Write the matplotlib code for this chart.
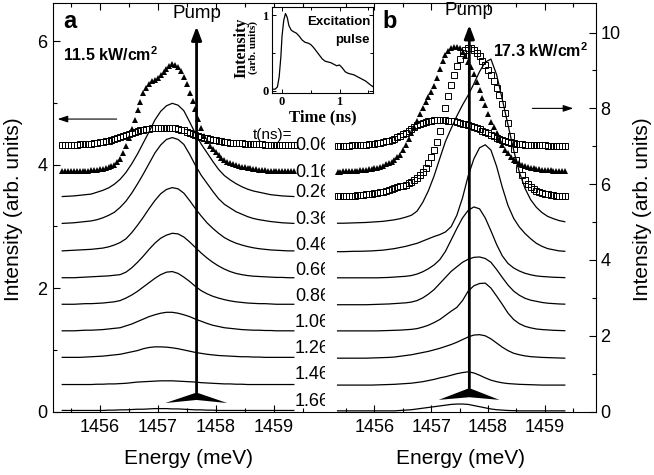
import numpy as np
import matplotlib
matplotlib.use('Agg')
import matplotlib.pyplot as plt
from matplotlib.ticker import MultipleLocator, FixedLocator

plt.rcParams['font.family'] = 'Liberation Sans'
plt.rcParams['mathtext.fontset'] = 'custom'
plt.rcParams['mathtext.rm'] = 'Liberation Sans'
plt.rcParams['mathtext.bf'] = 'Liberation Sans:bold'

# energy grids of the read values (meV): lines every 0.1, symbols every 0.05
energy = np.round(np.arange(1455.35, 1459.36, 0.1), 2)
energy_fine = np.round(np.arange(1455.35, 1459.36, 0.05), 2)
times = ['0.06', '0.16', '0.26', '0.36', '0.46', '0.66', '0.86', '1.06', '1.26', '1.46', '1.66']

# panel a, 11.5 kW/cm2 : heights above each baseline
left_offsets = [4.32, 3.90, 3.475, 3.04, 2.60, 2.17, 1.74, 1.31, 0.88, 0.44, 0.02]
left_sq_006 = [
    0, 0, 0, 0, 0, 0.005, 0.01, 0.012, 0.015, 0.018,
    0.02, 0.028, 0.035, 0.042, 0.05, 0.058, 0.065, 0.08, 0.095, 0.112,
    0.13, 0.145, 0.16, 0.18, 0.2, 0.215, 0.23, 0.24, 0.25, 0.258,
    0.265, 0.268, 0.27, 0.275, 0.28, 0.28, 0.28, 0.28, 0.28, 0.27,
    0.26, 0.248, 0.235, 0.218, 0.2, 0.182, 0.165, 0.148, 0.13, 0.12,
    0.11, 0.098, 0.085, 0.075, 0.065, 0.058, 0.05, 0.045, 0.04, 0.035,
    0.03, 0.028, 0.025, 0.022, 0.02, 0.018, 0.015, 0.012, 0.01, 0.008,
    0.005, 0.002, 0, 0, 0, 0, 0, 0, 0, 0, 0]
left_tri_016 = [
    0, 0, 0, 0, 0, 0, 0, 0, 0, 0.005,
    0.01, 0.015, 0.02, 0.025, 0.03, 0.045, 0.06, 0.08, 0.10, 0.14,
    0.20, 0.29, 0.40, 0.53, 0.68, 0.83, 0.98, 1.12, 1.26, 1.35,
    1.41, 1.45, 1.47, 1.51, 1.55, 1.60, 1.65, 1.70, 1.73, 1.72,
    1.69, 1.62, 1.52, 1.40, 1.27, 1.14, 1.01, 0.84, 0.69, 0.57,
    0.48, 0.41, 0.35, 0.30, 0.25, 0.21, 0.18, 0.15, 0.13, 0.11,
    0.09, 0.08, 0.07, 0.06, 0.05, 0.04, 0.03, 0.025, 0.02, 0.015,
    0.01, 0.005, 0, 0, 0, 0, 0, 0, 0, 0, 0]
left_lines = [
    [0.01, 0.015, 0.02, 0.03, 0.04, 0.05, 0.08, 0.11, 0.15, 0.21, 0.29, 0.40, 0.54, 0.70, 0.88, 1.06, 1.25, 1.39, 1.48, 1.52, 1.49,
     1.40, 1.22, 1.03, 0.86, 0.72, 0.58, 0.45, 0.35, 0.28, 0.22, 0.17, 0.13, 0.10, 0.08, 0.06, 0.04, 0.03, 0.02, 0.015, 0.01],
    [0.01, 0.015, 0.02, 0.03, 0.04, 0.05, 0.07, 0.10, 0.14, 0.19, 0.27, 0.37, 0.50, 0.65, 0.81, 0.98, 1.15, 1.28, 1.37, 1.40, 1.37,
     1.29, 1.13, 0.95, 0.79, 0.66, 0.53, 0.41, 0.32, 0.26, 0.20, 0.16, 0.12, 0.09, 0.07, 0.055, 0.04, 0.03, 0.02, 0.015, 0.01],
    [0.005, 0.01, 0.015, 0.02, 0.025, 0.03, 0.04, 0.05, 0.07, 0.10, 0.14, 0.20, 0.30, 0.42, 0.55, 0.69, 0.82, 0.93, 1.00, 1.03, 1.01,
     0.94, 0.82, 0.69, 0.57, 0.46, 0.37, 0.29, 0.22, 0.17, 0.13, 0.10, 0.075, 0.055, 0.04, 0.03, 0.02, 0.015, 0.01, 0.005, 0.005],
    [0, 0, 0, 0.005, 0.01, 0.015, 0.02, 0.025, 0.03, 0.04, 0.05, 0.09, 0.16, 0.25, 0.35, 0.46, 0.56, 0.64, 0.69, 0.72, 0.71,
     0.66, 0.58, 0.49, 0.40, 0.32, 0.25, 0.19, 0.14, 0.10, 0.07, 0.05, 0.035, 0.025, 0.02, 0.015, 0.01, 0.005, 0.005, 0, 0],
    [0, 0, 0, 0.005, 0.01, 0.01, 0.015, 0.02, 0.03, 0.04, 0.06, 0.10, 0.15, 0.21, 0.28, 0.35, 0.42, 0.48, 0.52, 0.53, 0.50,
     0.44, 0.37, 0.29, 0.22, 0.17, 0.13, 0.10, 0.075, 0.055, 0.04, 0.03, 0.02, 0.015, 0.01, 0.01, 0.005, 0, 0, 0, 0],
    [0, 0, 0, 0.005, 0.01, 0.01, 0.015, 0.02, 0.03, 0.04, 0.05, 0.08, 0.11, 0.15, 0.19, 0.23, 0.26, 0.285, 0.30, 0.30, 0.285,
     0.26, 0.23, 0.19, 0.155, 0.12, 0.09, 0.07, 0.05, 0.04, 0.03, 0.02, 0.015, 0.01, 0.01, 0.005, 0.005, 0, 0, 0, 0],
    [0, 0, 0, 0, 0.005, 0.01, 0.015, 0.02, 0.03, 0.04, 0.05, 0.07, 0.09, 0.11, 0.14, 0.16, 0.17, 0.17, 0.165, 0.155, 0.14,
     0.12, 0.10, 0.08, 0.065, 0.05, 0.04, 0.03, 0.025, 0.02, 0.015, 0.01, 0.01, 0.005, 0.005, 0, 0, 0, 0, 0, 0],
    [0, 0, 0, 0, 0, 0, 0.005, 0.005, 0.01, 0.01, 0.015, 0.02, 0.03, 0.04, 0.045, 0.05, 0.055, 0.06, 0.06, 0.06, 0.055,
     0.05, 0.045, 0.04, 0.03, 0.025, 0.02, 0.015, 0.01, 0.01, 0.005, 0.005, 0, 0, 0, 0, 0, 0, 0, 0, 0],
    [0, 0, 0, 0, 0, 0, 0, 0, 0.005, 0.005, 0.01, 0.01, 0.015, 0.02, 0.02, 0.025, 0.03, 0.03, 0.03, 0.025, 0.025,
     0.02, 0.015, 0.01, 0.01, 0.005, 0.005, 0, 0, 0, 0, 0, 0, 0, 0, 0, 0, 0, 0, 0, 0],
]

# panel b, 17.3 kW/cm2
right_offsets = [7.01, 6.33, 5.67, 4.97, 4.22, 3.53, 2.82, 2.13, 1.41, 0.70, 0.02]
right_sq_006 = [
    0.0, 0.002, 0.005, 0.008, 0.01, 0.012, 0.015, 0.02, 0.025, 0.03,
    0.035, 0.042, 0.05, 0.06, 0.07, 0.085, 0.10, 0.12, 0.14, 0.165,
    0.19, 0.225, 0.26, 0.305, 0.35, 0.40, 0.45, 0.50, 0.54, 0.58,
    0.61, 0.64, 0.66, 0.67, 0.68, 0.685, 0.69, 0.685, 0.68, 0.67,
    0.66, 0.645, 0.63, 0.61, 0.59, 0.57, 0.55, 0.525, 0.50, 0.47,
    0.44, 0.405, 0.37, 0.33, 0.29, 0.255, 0.22, 0.185, 0.15, 0.125,
    0.10, 0.085, 0.07, 0.06, 0.05, 0.042, 0.035, 0.03, 0.025, 0.022,
    0.02, 0.018, 0.015, 0.012, 0.01, 0.008, 0.005, 0.002, 0.0, 0.0, 0.0]
right_tri_016 = [
    0.0, 0.002, 0.005, 0.008, 0.01, 0.015, 0.02, 0.028, 0.035, 0.042,
    0.05, 0.065, 0.08, 0.095, 0.11, 0.135, 0.16, 0.19, 0.22, 0.265,
    0.32, 0.38, 0.45, 0.57, 0.70, 0.86, 1.02, 1.18, 1.35, 1.52,
    1.68, 1.84, 1.98, 2.10, 2.25, 2.48, 2.70, 2.91, 3.08, 3.19,
    3.26, 3.29, 3.30, 3.25, 3.15, 3.04, 2.90, 2.75, 2.58, 2.37,
    2.15, 1.95, 1.75, 1.53, 1.32, 1.17, 1.02, 0.85, 0.70, 0.58,
    0.48, 0.39, 0.32, 0.27, 0.22, 0.18, 0.15, 0.12, 0.10, 0.085,
    0.07, 0.06, 0.05, 0.045, 0.04, 0.035, 0.03, 0.025, 0.02, 0.015, 0.01]
right_sq_026 = [
    0.01, 0.012, 0.015, 0.018, 0.02, 0.025, 0.03, 0.035, 0.04, 0.05,
    0.06, 0.07, 0.08, 0.09, 0.10, 0.115, 0.13, 0.15, 0.17, 0.195,
    0.22, 0.245, 0.27, 0.295, 0.32, 0.36, 0.40, 0.45, 0.50, 0.57,
    0.66, 0.76, 0.88, 1.04, 1.22, 1.45, 1.72, 2.03, 2.35, 2.65,
    2.95, 3.22, 3.45, 3.64, 3.78, 3.87, 3.92, 3.91, 3.88, 3.80,
    3.70, 3.59, 3.48, 3.35, 3.20, 3.05, 2.88, 2.68, 2.45, 2.21,
    1.95, 1.60, 1.25, 0.96, 0.72, 0.57, 0.44, 0.34, 0.25, 0.20,
    0.15, 0.12, 0.09, 0.075, 0.06, 0.05, 0.04, 0.03, 0.02, 0.015, 0.01]
right_lines = [
    [0.0, 0.0, 0.005, 0.01, 0.015, 0.02, 0.03, 0.04, 0.05, 0.07, 0.09, 0.12, 0.16, 0.21, 0.32, 0.55, 0.86, 1.25, 1.71, 2.16, 2.50,
     2.83, 3.12, 3.38, 3.68, 4.00, 4.25, 4.33, 3.92, 3.27, 2.60, 1.93, 1.35, 0.92, 0.62, 0.42, 0.28, 0.18, 0.12, 0.07, 0.04],
    [0, 0, 0.005, 0.01, 0.01, 0.015, 0.02, 0.03, 0.04, 0.06, 0.08, 0.11, 0.14, 0.18, 0.22, 0.28, 0.34, 0.40, 0.45, 0.52, 0.66,
     0.96, 1.42, 2.00, 2.45, 2.74, 2.82, 2.68, 2.25, 1.70, 1.22, 0.88, 0.65, 0.48, 0.34, 0.22, 0.14, 0.08, 0.05, 0.02, 0.01],
    [0, 0, 0, 0, 0, 0, 0, 0, 0.005, 0.01, 0.02, 0.03, 0.04, 0.06, 0.10, 0.16, 0.24, 0.34, 0.48, 0.70, 1.00,
     1.30, 1.58, 1.78, 1.87, 1.82, 1.58, 1.24, 0.88, 0.58, 0.38, 0.26, 0.18, 0.12, 0.08, 0.05, 0.035, 0.025, 0.015, 0.01, 0.005],
    [0, 0, 0, 0, 0, 0, 0.005, 0.01, 0.015, 0.02, 0.03, 0.04, 0.05, 0.07, 0.11, 0.18, 0.28, 0.40, 0.56, 0.72, 0.88,
     1.00, 1.12, 1.20, 1.25, 1.26, 1.22, 1.12, 0.93, 0.72, 0.52, 0.36, 0.25, 0.17, 0.12, 0.09, 0.06, 0.04, 0.03, 0.02, 0.015],
    [0, 0, 0, 0, 0, 0, 0, 0, 0.005, 0.01, 0.015, 0.02, 0.03, 0.04, 0.06, 0.10, 0.15, 0.22, 0.30, 0.41, 0.52,
     0.62, 0.80, 1.05, 1.19, 1.25, 1.26, 1.13, 0.92, 0.70, 0.47, 0.30, 0.19, 0.12, 0.08, 0.05, 0.035, 0.025, 0.015, 0.01, 0.005],
    [0, 0, 0, 0, 0, 0, 0.005, 0.01, 0.015, 0.02, 0.03, 0.05, 0.07, 0.09, 0.12, 0.15, 0.18, 0.22, 0.26, 0.31, 0.36,
     0.42, 0.49, 0.56, 0.61, 0.62, 0.59, 0.51, 0.40, 0.29, 0.20, 0.13, 0.09, 0.06, 0.04, 0.03, 0.02, 0.015, 0.01, 0.005, 0.0],
    [0, 0, 0, 0, 0, 0, 0, 0.005, 0.01, 0.015, 0.02, 0.03, 0.04, 0.05, 0.07, 0.09, 0.12, 0.15, 0.19, 0.22, 0.26,
     0.30, 0.33, 0.35, 0.32, 0.26, 0.19, 0.13, 0.09, 0.06, 0.04, 0.03, 0.02, 0.015, 0.01, 0.005, 0, 0, 0, 0, 0],
    [0, 0, 0, 0, 0, 0, 0, 0, 0, 0, 0, 0.01, 0.02, 0.03, 0.05, 0.07, 0.09, 0.11, 0.13, 0.15, 0.17,
     0.18, 0.18, 0.17, 0.14, 0.11, 0.08, 0.05, 0.03, 0.02, 0.01, 0.005, 0, 0, 0, 0, 0, 0, 0, 0, 0],
]

# excitation pulse (inset)
pulse_t = [-0.18, -0.12, -0.08, -0.05, -0.02, 0.0, 0.03, 0.06, 0.09, 0.12, 0.16, 0.2, 0.25, 0.3, 0.35, 0.4, 0.45,
           0.5, 0.55, 0.6, 0.65, 0.7, 0.75, 0.8, 0.85, 0.9, 0.95, 1.0, 1.05, 1.1, 1.15, 1.2, 1.25, 1.3, 1.35,
           1.4, 1.45, 1.5, 1.55, 1.59]
pulse_i = [0.02, 0.02, 0.05, 0.18, 0.45, 0.72, 0.93, 1.02, 0.97, 0.86, 0.80, 0.78, 0.76, 0.72, 0.67, 0.64, 0.63,
           0.61, 0.57, 0.52, 0.47, 0.42, 0.39, 0.38, 0.37, 0.35, 0.33, 0.34, 0.30, 0.25, 0.23, 0.22, 0.21, 0.19, 0.17,
           0.15, 0.13, 0.10, 0.07, 0.05]

pump_e = 1457.67
label_y = [4.31, 3.88, 3.55, 3.12, 2.70, 2.28, 1.86, 1.45, 1.03, 0.61, 0.17]

W, H = 654, 475
def box(x0, y0, x1, y1):
    return [x0 / W, 1 - y1 / H, (x1 - x0) / W, (y1 - y0) / H]

fig = plt.figure(figsize=(6.54, 4.75), dpi=100)
axL = fig.add_axes(box(53, 3, 324.5, 412))
axR = fig.add_axes(box(324.5, 3, 596, 412))


def squares(ax, vals, off):
    ax.plot(energy_fine, np.array(vals) + off, ls='none', marker='s', ms=4.2, mfc='none', mec='k', mew=0.7)


def triangles(ax, vals, off):
    ax.plot(energy_fine, np.array(vals) + off, ls='none', marker='^', ms=4.6, color='k', mew=0)


def lines(ax, spectra, offsets):
    for vals, off in zip(spectra, offsets):
        ax.plot(energy, np.array(vals) + off, color='k', lw=0.9)


squares(axL, left_sq_006, left_offsets[0])
triangles(axL, left_tri_016, left_offsets[1])
lines(axL, left_lines, left_offsets[2:])

squares(axR, right_sq_006, right_offsets[0])
triangles(axR, right_tri_016, right_offsets[1])
squares(axR, right_sq_026, right_offsets[2])
lines(axR, right_lines, right_offsets[3:])

axL.set_xlim(1455.19, 1459.88)
axL.set_ylim(-0.005, 6.62)
axR.set_xlim(1455.12, 1459.9)
axR.set_ylim(-0.01, 10.78)

for ax in (axL, axR):
    ax.xaxis.set_major_locator(FixedLocator([1456, 1457, 1458, 1459]))
    ax.xaxis.set_minor_locator(FixedLocator([1455.5, 1456.5, 1457.5, 1458.5, 1459.5]))
    ax.tick_params(which='both', direction='in', top=True, width=0.8, labelsize=13)
    ax.tick_params(which='major', length=5)
    ax.tick_params(which='minor', length=3)
    ax.tick_params(axis='x', pad=5)
    ax.set_xlabel('Energy (meV)', fontsize=15)
    ax.xaxis.set_label_coords(0.5, -0.09)
    ax.xaxis.label.set_va('top')

axL.spines['right'].set_visible(False)
axR.spines['left'].set_visible(False)
axL.yaxis.set_major_locator(MultipleLocator(2))
axL.yaxis.set_minor_locator(MultipleLocator(1))
axL.tick_params(axis='y', which='both', right=False, pad=4)
axR.yaxis.set_major_locator(MultipleLocator(2))
axR.yaxis.set_minor_locator(MultipleLocator(1))
axR.tick_params(axis='y', which='both', left=False, right=True, labelleft=False, labelright=True, pad=3)

# pump arrow and its spectrum
for ax, apex, tip, notch, top, ptxt in [(axL, 0.31, 0.14, 0.19, 6.24, 6.38), (axR, 0.62, 0.31, 0.38, 10.2, 10.47)]:
    ax.fill([1457.13, pump_e, 1458.2, pump_e], [tip, apex, tip, notch], color='k', lw=0)
    ax.annotate('', xy=(pump_e, top), xytext=(pump_e, apex),
                arrowprops=dict(arrowstyle='-|>,head_length=0.8,head_width=0.3', lw=2, color='k',
                                shrinkA=0, shrinkB=0))
    ax.text(pump_e, ptxt, 'Pump', ha='center', va='baseline', fontsize=13.5)

axL.annotate('', xy=(1455.27, 4.74), xytext=(1456.29, 4.74),
             arrowprops=dict(arrowstyle='-|>,head_length=0.6,head_width=0.2', lw=0.8, color='k', shrinkA=0, shrinkB=0))
axR.annotate('', xy=(1459.5, 8.0), xytext=(1458.78, 8.0),
             arrowprops=dict(arrowstyle='-|>,head_length=0.6,head_width=0.2', lw=0.8, color='k', shrinkA=0, shrinkB=0))

axL.text(0.037, 0.939, 'a', transform=axL.transAxes, fontsize=17, fontweight='bold', va='baseline')
axR.text(0.215, 0.939, 'b', transform=axR.transAxes, fontsize=17, fontweight='bold', va='baseline')
axL.text(0.037, 0.858, r'11.5 kW/cm$^\mathbf{2}$', transform=axL.transAxes, fontsize=11.5, fontweight='bold', va='baseline')
axR.text(0.62, 0.868, r'17.3 kW/cm$^\mathbf{2}$', transform=axR.transAxes, fontsize=11.5, fontweight='bold', va='baseline')

# delay times between the panels
for t, y in zip(times, label_y):
    axL.text(1459.37, y, t, ha='left', va='center', fontsize=13, clip_on=False)
axL.text(1459.33, 4.48, 't(ns)=', ha='right', va='center', fontsize=11, clip_on=False)

fig.text(14 / W, 1 - 209 / H, 'Intensity (arb. units)', rotation=90, ha='center', va='center', fontsize=15)
fig.text(643 / W, 1 - 209 / H, 'Intensity (arb. units)', rotation=90, ha='center', va='center', fontsize=15)

# inset: excitation pulse
axI = fig.add_axes(box(271.5, 7, 373.3, 93))
axI.plot(pulse_t, pulse_i, color='k', lw=0.9)
axI.set_xlim(-0.183, 1.588)
axI.set_ylim(-0.03, 1.106)
axI.xaxis.set_major_locator(FixedLocator([0, 1]))
axI.xaxis.set_minor_locator(FixedLocator([0.5, 1.5]))
axI.yaxis.set_major_locator(FixedLocator([0, 1]))
axI.yaxis.set_minor_locator(FixedLocator([0.5]))
axI.tick_params(which='both', direction='in', top=True, right=True, width=0.7, labelsize=9, pad=2)
axI.tick_params(which='major', length=3)
axI.tick_params(which='minor', length=2)
for lab in axI.get_xticklabels() + axI.get_yticklabels():
    lab.set_fontfamily('Liberation Serif')
    lab.set_fontweight('bold')
for sp in axI.spines.values():
    sp.set_linewidth(0.8)

serif = dict(family='Liberation Serif', weight='bold')
fig.text(241 / W, 1 - 48 / H, 'Intensity', rotation=90, ha='center', va='center', fontsize=11.5, **serif)
fig.text(253 / W, 1 - 48 / H, '(arb. units)', rotation=90, ha='center', va='center', fontsize=8, **serif)
fig.text(322.5 / W, 1 - 117 / H, 'Time (ns)', ha='center', va='center', fontsize=12, **serif)
fig.text(370 / W, 1 - 22 / H, 'Excitation', ha='right', va='center', fontsize=9.5, fontweight='bold')
fig.text(370 / W, 1 - 40 / H, 'pulse', ha='right', va='center', fontsize=9.5, fontweight='bold')

fig.savefig('out.png', dpi=100)
